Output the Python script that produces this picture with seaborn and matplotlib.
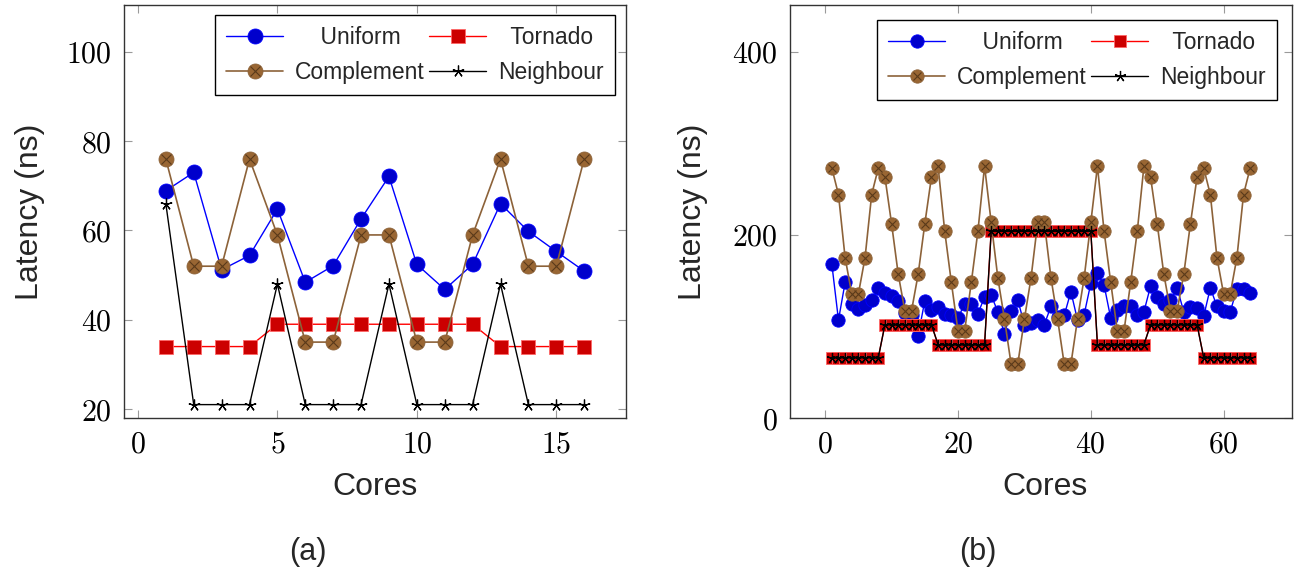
import matplotlib
matplotlib.use("Agg")
import matplotlib.pyplot as plt
import seaborn as sns
from matplotlib.legend_handler import HandlerTuple

# ---------------- data ----------------
cores_a = list(range(1, 17))
uniform_a = [68.9, 73.0, 51.2, 54.4, 64.8, 48.4, 52.1, 62.6, 72.1, 52.4, 46.8, 52.4, 66.0, 59.8, 55.3, 50.9]
tornado_a = [34, 34, 34, 34, 39, 39, 39, 39, 39, 39, 39, 39, 34, 34, 34, 34]
complement_a = [76, 52, 52, 76, 59, 35, 35, 59, 59, 35, 35, 59, 76, 52, 52, 76]
neighbour_a = [66, 21, 21, 21, 48, 21, 21, 21, 48, 21, 21, 21, 48, 21, 21, 21]

cores_b = list(range(1, 65))
uniform_b = [168, 107, 148, 124, 119, 123, 129, 142, 136, 133, 128, 115, 112, 90, 128, 118,
             121, 114, 112, 109, 125, 125, 114, 132, 134, 116, 92, 117, 129, 102, 104, 107,
             102, 122, 110, 112, 138, 107, 113, 147, 158, 145, 109, 118, 122, 122, 113, 116,
             144, 132, 125, 129, 142, 116, 121, 120, 111, 142, 122, 117, 116, 141, 141, 136]
tornado_b = ([66] * 8 + [102] * 8 + [80] * 8 + [204] * 16 + [80] * 8 + [102] * 8 + [66] * 8)
complement_b = [273, 244, 175, 135.5, 135.5, 175, 244, 273,
                263, 212, 157, 117, 117, 157, 212, 263,
                275, 204, 148, 95, 95, 148, 204, 275,
                213.5, 153, 108, 58.7, 58.7, 108, 153, 213.5,
                213.5, 153, 108, 58.7, 58.7, 108, 153, 213.5,
                275, 204, 148, 95, 95, 148, 204, 275,
                263, 212, 157, 117, 117, 157, 212, 263,
                273, 244, 175, 135.5, 135.5, 175, 244, 273]
neighbour_b = ([66] * 8 + [102] * 8 + [80] * 8 + [204] * 16 + [80] * 8 + [102] * 8 + [66] * 8)

series_names = ["Uniform", "Tornado", "Complement", "Neighbour"]
xticks_a = [0, 5, 10, 15]
yticks_a = [20, 40, 60, 80, 100]
xticks_b = [0, 20, 40, 60]
yticks_b = [0, 200, 400]

# ---------------- style ----------------
sns.set_theme(style="white")
plt.rcParams["font.family"] = ["Liberation Sans", "DejaVu Sans"]
plt.rcParams["mathtext.fontset"] = "cm"

W, H = 1299, 576
fig = plt.figure(figsize=(W / 100, H / 100), dpi=100)
fig.patch.set_facecolor("white")


def add_ax(l, t, r, b):
    return fig.add_axes([l / W, 1 - b / H, (r - l) / W, (b - t) / H])


BLUE_L, BLUE_F = "#0000ff", "#0000cc"
RED_L, RED_F = "#ff0000", "#cc0000"
BR_L, BR_F, BR_X = "#8c6239", "#996633", "#5a3a1a"


def draw(ax, cores, uni, tor, comp, nei, ms, sq, star):
    sns.lineplot(x=cores, y=uni, ax=ax, color=BLUE_L, lw=1.0, marker="o",
                 markersize=ms, markerfacecolor=BLUE_F, markeredgecolor=BLUE_L,
                 markeredgewidth=0.6, legend=False)
    sns.lineplot(x=cores, y=tor, ax=ax, color=RED_L, lw=1.0, marker="s",
                 markersize=sq, markerfacecolor=RED_F, markeredgecolor="#ff6666",
                 markeredgewidth=0.6, legend=False)
    sns.lineplot(x=cores, y=comp, ax=ax, color=BR_L, lw=1.2, marker="o",
                 markersize=ms, markerfacecolor=BR_F, markeredgecolor=BR_L,
                 markeredgewidth=0.6, legend=False)
    ax.plot(cores, comp, ls="none", marker="x", markersize=ms * 0.62,
            markeredgecolor=BR_X, markeredgewidth=0.8)
    sns.lineplot(x=cores, y=nei, ax=ax, color="black", lw=1.0, marker=(5, 2, 0),
                 markersize=star, markeredgecolor="black", markeredgewidth=0.9,
                 legend=False)
    lines = ax.get_lines()
    return lines[0], lines[1], (lines[2], lines[3]), lines[4]


def style(ax, xt, yt, xlim, ylim):
    ax.set_xlim(*xlim)
    ax.set_ylim(*ylim)
    ax.set_xticks(xt)
    ax.set_xticklabels([f"${v}$" for v in xt])
    ax.set_yticks(yt)
    ax.set_yticklabels([f"${v}$" for v in yt])
    ax.tick_params(direction="in", length=6, width=0.8, color="#9a9a9a",
                   top=True, right=True, bottom=True, left=True,
                   labelsize=21.5, labelcolor="black")
    ax.tick_params(axis="x", pad=9)
    ax.tick_params(axis="y", pad=9)
    for s in ax.spines.values():
        s.set_color("#333333")
        s.set_linewidth(1.0)
        s.set_visible(True)
    ax.set_xlabel("")
    ax.set_ylabel("")


def legend(ax, handles, anchor):
    h_uni, h_tor, h_comp, h_nei = handles
    labels = ["    " + series_names[0], series_names[2], "  " + series_names[1], series_names[3]]
    leg = ax.legend([h_uni, h_comp, h_tor, h_nei], labels, ncol=2, loc="upper right",
                    bbox_to_anchor=anchor, fontsize=16.5, frameon=True, fancybox=False,
                    edgecolor="black", framealpha=1, handlelength=2.5, handletextpad=0.5,
                    columnspacing=0.2, labelspacing=0.5, borderpad=0.5, borderaxespad=0,
                    handler_map={tuple: HandlerTuple(ndivide=1)})
    leg.get_frame().set_linewidth(1.0)
    return leg


# panel (a)
ax1 = add_ax(124, 5, 626, 418)
hs = draw(ax1, cores_a, uniform_a, tornado_a, complement_a, neighbour_a, 10.8, 10.0, 8.5)
style(ax1, xticks_a, yticks_a, (-0.5, 17.5), (18, 110.5))
legend(ax1, hs, (0.978, 0.976))

# panel (b)
ax2 = add_ax(790, 5, 1292, 418)
hs2 = draw(ax2, cores_b, uniform_b, tornado_b, complement_b, neighbour_b, 9.6, 9.0, 8.0)
style(ax2, xticks_b, yticks_b, (-5.3, 70.3), (0, 451))
legend(ax2, hs2, (0.97, 0.964))


def ftext(x, y, s, **kw):
    fig.text(x / W, 1 - y / H, s, ha="center", va="center", **kw)


ftext(30, 212, "Latency (ns)", fontsize=23, rotation=90)
ftext(375, 487, "Cores", fontsize=23)
ftext(308, 552, "(a)", fontsize=22)
ftext(693, 212, "Latency (ns)", fontsize=23, rotation=90)
ftext(1045, 487, "Cores", fontsize=23)
ftext(978, 552, "(b)", fontsize=22)

fig.savefig("out.png", dpi=100, facecolor="white")
